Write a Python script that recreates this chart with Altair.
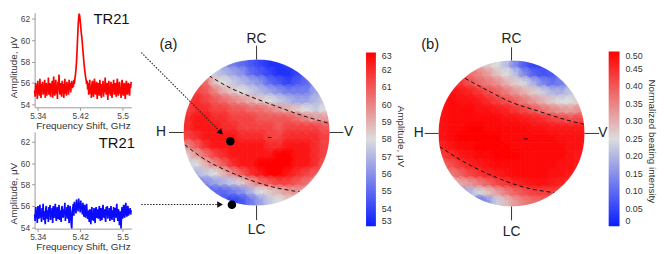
import altair as alt
import pandas as pd

FONT = "Liberation Sans"

# ---------------- spectra (TR21), 1 MHz sampling from 5.334 GHz ----------------
F0, DF = 5.334, 0.001
amp_red = [
    55.3, 54.7, 56.0, 55.1, 55.8, 54.5, 56.2, 55.0, 55.6, 54.8,
    56.4, 55.2, 54.6, 55.9, 55.4, 56.1, 54.9, 55.7, 55.0, 56.3,
    54.6, 55.5, 56.0, 54.8, 55.8, 55.2, 56.5, 54.9, 55.4, 56.0,
    54.7, 55.9, 55.3, 56.2, 54.6, 55.7, 56.6, 55.1, 54.8, 55.6,
    56.3, 55.0, 55.8, 54.5, 56.1, 55.4, 56.8, 55.2, 54.9, 56.0,
    55.5, 54.7, 56.2, 55.1, 55.9, 54.6, 55.6, 56.4, 55.0, 55.7,
    54.8, 56.1, 55.3, 55.9, 54.9, 56.3, 55.4, 56.0, 55.1, 55.8,
    56.2, 55.5, 56.0, 55.6, 56.3, 55.9, 56.4,
    56.8, 57.3, 58.0, 59.0, 60.2, 61.3, 62.1, 62.5, 62.3, 61.8,
    61.2, 60.7, 60.3, 59.7, 59.1, 58.5, 57.9, 57.4, 57.0, 56.6,
    56.3, 55.9, 56.2,
    55.4, 56.0, 54.9, 55.7, 56.3, 55.0, 55.6, 54.6, 55.9, 56.2,
    55.1, 54.7, 55.8, 56.4, 55.2, 54.9, 55.6, 56.1, 54.5, 55.5,
    56.0, 55.3, 54.8, 56.3, 55.6, 55.0, 54.6, 55.9, 55.4, 56.2,
    54.7, 55.8, 55.1, 56.5, 55.3, 54.9, 55.7, 56.0, 54.4, 55.6,
    56.2, 55.0, 55.5, 54.8, 56.1, 55.4, 54.6, 55.9, 55.2, 56.3,
    54.9, 55.7, 56.0, 55.1, 54.7, 55.8, 56.4, 55.3, 54.8, 55.6,
    56.1, 55.0, 55.5, 54.6, 55.9, 56.3, 55.2, 54.8, 55.7, 56.0,
    55.1, 54.5, 55.6, 56.2, 55.3, 54.9, 55.8, 56.0, 55.4, 54.8,
    55.9, 55.5, 56.1,
]
amp_blue = [
    55.2, 54.6, 55.9, 55.0, 55.6, 54.4, 56.0, 55.3, 54.8, 55.7,
    56.1, 54.9, 55.4, 54.5, 55.8, 55.1, 56.2, 54.7, 55.5, 55.0,
    54.3, 55.7, 56.0, 55.2, 54.8, 55.6, 54.5, 55.9, 55.3, 56.1,
    54.7, 55.4, 55.0, 55.8, 54.4, 56.0, 55.2, 54.9, 55.7, 56.2,
    55.0, 54.6, 55.5, 55.9, 54.8, 55.3, 56.1, 54.7, 55.6, 55.1,
    54.5, 55.8, 56.0, 55.2, 54.9, 55.7, 55.3, 56.3, 54.6, 55.5,
    55.0, 55.9, 54.8, 56.1, 55.4, 54.4, 55.7, 56.0, 55.1, 54.3,
    53.9, 55.4, 55.8, 56.2, 55.1, 56.4, 55.6, 56.0, 55.3, 56.6,
    55.8, 56.3, 55.5, 56.7, 55.9, 56.1, 55.4, 56.5, 55.7, 56.0,
    55.2, 56.3, 55.6, 55.0, 56.1, 55.5, 54.9, 55.8, 56.2, 55.3,
    54.8, 55.6, 55.1, 54.5, 55.7, 55.0, 54.3, 55.4, 55.9, 54.7,
    55.3, 54.6, 55.8, 55.1, 54.4, 55.6, 55.9, 54.9, 55.2, 55.7,
    54.8, 55.5, 56.0, 55.0, 54.6, 55.8, 55.3, 54.7, 55.6, 56.1,
    55.2, 54.9, 55.7, 55.0, 54.5, 55.9, 55.4, 56.0, 54.8, 55.5,
    55.1, 55.8, 54.6, 55.4, 56.0, 55.2, 54.7, 55.6, 55.0, 55.9,
    54.5, 55.3, 55.8, 54.9, 55.6, 56.2, 55.1, 54.6, 55.7, 55.3,
    54.2, 55.5, 55.0, 53.9, 55.4, 55.9, 54.8, 55.6, 56.1, 55.2,
    54.9, 55.8, 56.3, 55.4, 55.0, 55.7, 56.0, 55.1, 55.6, 55.3,
    55.8, 55.2, 55.6,
]
spec_x_ticks = [5.34, 5.42, 5.5]
spec_y_ticks = [54, 56, 58, 60, 62]
spec_label = "TR21"

# ---------------- sphere maps (rows top->bottom, cells inside the disk) ----------------
map_amp = [
    [56, 55.5, 55, 54.5, 54, 53.5, 53.5, 54],
    [58.5, 57.5, 57, 56.5, 56, 55, 54.5, 54, 53.5, 53.5, 54, 55],
    [61, 60.5, 58.5, 58, 57.5, 57, 56.5, 56, 55, 54.5, 54, 54.5, 55, 56],
    [61.5, 61, 60, 59, 58.5, 58, 57.5, 57, 56.5, 56, 55.5, 55.5, 55.5, 56.5],
    [61.5, 62, 61.5, 61, 60.5, 60, 59.5, 59, 58.5, 58, 57.5, 57, 56.5, 56.5, 57, 57.5],
    [61.5, 62, 62, 61.5, 61.5, 61, 61, 60.5, 60.5, 60, 59.5, 59, 58.5, 58, 57.5, 58],
    [62, 62.5, 62.5, 62, 62, 61.5, 61.5, 61.5, 61, 61, 61, 61, 60.5, 60, 59.5, 59.5],
    [62, 62.5, 62.5, 62.5, 62, 62, 61.5, 61.5, 61.5, 61.5, 61, 61.5, 61.5, 61.5, 61.5, 61],
    [61.5, 62, 62.5, 62.5, 62.5, 62.5, 62, 62, 62, 61.5, 61.5, 62, 62, 62, 62, 61.5],
    [60, 61, 62, 62.5, 62.5, 62.5, 62.5, 62.5, 62.5, 62, 62, 62.5, 62.5, 62.5, 62, 61.5],
    [58.5, 59.5, 60.5, 61.5, 62, 62.5, 62.5, 62.5, 62.5, 62.5, 63, 63, 62.5, 62.5, 62, 61.5],
    [57.5, 58, 59, 60, 61, 62, 62.5, 62.5, 63, 63, 63, 63, 62.5, 62.5, 62, 61],
    [57, 57.5, 58, 59, 60, 61, 62, 62.5, 63, 63, 62.5, 62, 61.5, 61],
    [56, 56, 56.5, 57, 57.5, 58.5, 59.5, 60.5, 61, 61.5, 61.5, 61, 60.5, 60],
    [55, 55, 55, 55.5, 56, 57, 58, 58.5, 59, 59.5, 59.5, 59.5],
    [54.5, 54, 54.5, 55.5, 56.5, 57.5, 58, 58.5],
]
map_beat = [
    [0.30, 0.27, 0.25, 0.21, 0.14, 0.08, 0.05, 0.06],
    [0.40, 0.37, 0.35, 0.32, 0.28, 0.25, 0.21, 0.14, 0.09, 0.07, 0.08, 0.12],
    [0.45, 0.44, 0.41, 0.38, 0.36, 0.34, 0.30, 0.27, 0.24, 0.19, 0.14, 0.11, 0.13, 0.17],
    [0.48, 0.47, 0.46, 0.44, 0.41, 0.39, 0.36, 0.33, 0.30, 0.27, 0.23, 0.20, 0.19, 0.22],
    [0.48, 0.49, 0.48, 0.48, 0.47, 0.45, 0.43, 0.41, 0.39, 0.36, 0.33, 0.30, 0.27, 0.25, 0.25, 0.27],
    [0.48, 0.49, 0.49, 0.49, 0.48, 0.48, 0.47, 0.46, 0.44, 0.42, 0.40, 0.37, 0.35, 0.33, 0.32, 0.34],
    [0.48, 0.49, 0.49, 0.49, 0.49, 0.49, 0.49, 0.48, 0.48, 0.47, 0.46, 0.45, 0.43, 0.42, 0.41, 0.42],
    [0.48, 0.49, 0.49, 0.50, 0.50, 0.49, 0.49, 0.49, 0.49, 0.49, 0.48, 0.48, 0.47, 0.47, 0.47, 0.47],
    [0.48, 0.49, 0.50, 0.50, 0.50, 0.50, 0.50, 0.49, 0.49, 0.49, 0.49, 0.49, 0.49, 0.48, 0.48, 0.48],
    [0.46, 0.48, 0.49, 0.49, 0.50, 0.50, 0.50, 0.50, 0.49, 0.49, 0.49, 0.49, 0.49, 0.49, 0.48, 0.48],
    [0.43, 0.45, 0.47, 0.48, 0.49, 0.49, 0.50, 0.50, 0.50, 0.49, 0.49, 0.49, 0.49, 0.49, 0.48, 0.47],
    [0.39, 0.41, 0.44, 0.46, 0.47, 0.48, 0.49, 0.49, 0.49, 0.49, 0.49, 0.49, 0.49, 0.48, 0.48, 0.47],
    [0.36, 0.39, 0.42, 0.44, 0.46, 0.47, 0.48, 0.49, 0.49, 0.49, 0.49, 0.48, 0.48, 0.47],
    [0.29, 0.31, 0.33, 0.36, 0.39, 0.42, 0.44, 0.46, 0.47, 0.48, 0.48, 0.47, 0.46, 0.45],
    [0.17, 0.20, 0.24, 0.28, 0.32, 0.36, 0.39, 0.41, 0.43, 0.43, 0.43, 0.42],
    [0.10, 0.16, 0.23, 0.29, 0.33, 0.36, 0.38, 0.39],
]

# dashed latitude curves (unit-sphere coordinates)
dash_a = {"top": ([-0.653, -0.383, -0.068, 0.293, 0.608, 0.991], [0.779, 0.622, 0.486, 0.351, 0.239, 0.126]),
          "bot": ([-0.985, -0.743, -0.293, 0.158, 0.631], [-0.167, -0.347, -0.572, -0.73, -0.82])}
dash_b = {"top": ([-0.636, -0.34, -0.023, 0.386, 0.75, 0.99], [0.755, 0.595, 0.436, 0.3, 0.186, 0.127]),
          "bot": ([-0.99, -0.705, -0.25, 0.205, 0.614], [-0.177, -0.359, -0.586, -0.745, -0.814])}

amp_ticks = [53, 54, 55, 56, 57, 58, 59, 60, 61, 62, 63]
beat_ticks = [0, 0.05, 0.10, 0.15, 0.20, 0.25, 0.30, 0.35, 0.40, 0.45, 0.50]
BLUE, MID, RED = "#0a1eff", "#dcdcdc", "#ff0000"


def spectrum(vals, color, ydom, h, title_y, lab_xy):
    freq = [round(F0 + DF * i, 3) for i in range(len(vals))]
    df = pd.DataFrame({"f": freq, "a": vals})
    xs = alt.Scale(domain=[5.334, 5.5163], nice=False, zero=False)
    ys = alt.Scale(domain=ydom, nice=False, zero=False)
    ax_x = alt.Axis(values=spec_x_ticks, format=".2~f", title="Frequency Shift, GHz", grid=False,
                    domainColor="#999", tickColor="#999", tickSize=3, labelPadding=1,
                    labelFontSize=8.5, labelColor="#444", labelFont=FONT, labelOverlap=False,
                    titleFontSize=10, titleFontWeight="normal", titleColor="#333", titleFont=FONT,
                    titlePadding=1)
    ax_y = alt.Axis(values=spec_y_ticks, title="Amplitude, μV", grid=False,
                    domainColor="#999", tickColor="#999", tickSize=3, labelPadding=2,
                    labelFontSize=8.5, labelColor="#444", labelFont=FONT, labelOverlap=False,
                    labelBound=False, titleFontSize=10, titleFontWeight="normal", titleColor="#333",
                    titleFont=FONT, titlePadding=2, titleY=title_y)
    X = alt.X("f:Q", scale=xs, axis=ax_x)
    Y = alt.Y("a:Q", scale=ys, axis=ax_y)
    line = alt.Chart(df).mark_line(color=color, strokeWidth=1.7).encode(x=X, y=Y)
    lab = alt.Chart(pd.DataFrame({"f": [lab_xy[0]], "a": [lab_xy[1]], "t": [spec_label]})).mark_text(
        font=FONT, fontSize=15, color="#111", align="center", baseline="middle").encode(
        x=X, y=Y, text="t:N")
    return alt.layer(line, lab).properties(width=98, height=h)


def cells(rows):
    hs = 0.0645
    recs = []
    for r, row in enumerate(rows):
        v = 0.9375 - 0.125 * r
        start = (16 - len(row)) // 2
        for j, val in enumerate(row):
            u = -0.9375 + 0.125 * (start + j)
            recs.append(dict(u=u - hs, u2=u + hs, v=v - hs, v2=v + hs, uc=u, vc=v, val=val))
    return pd.DataFrame(recs)


def sphere(rows, cscale, legend, udom, vdom, w, h, dashes, ticks, letters, panel, ltitle, center, extra=()):
    xs = alt.Scale(domain=udom, nice=False, zero=False)
    ys = alt.Scale(domain=vdom, nice=False, zero=False)
    X = alt.X("u:Q", scale=xs, axis=None)
    Y = alt.Y("v:Q", scale=ys, axis=None)
    cdf = cells(rows)

    rect = alt.Chart(cdf).mark_rect(strokeWidth=0).encode(
        x=X, x2=alt.X2("u2:Q"), y=Y, y2=alt.Y2("v2:Q"),
        color=alt.Color("val:Q", scale=cscale, legend=legend))
    # soft overlay of the same cells to soften the mosaic edges (no legend of its own)
    soft = alt.Chart(cdf).mark_circle(size=230, opacity=0.5, strokeWidth=0).encode(
        x=alt.X("uc:Q", scale=xs, axis=None), y=alt.Y("vc:Q", scale=ys, axis=None),
        color=alt.Color("val:Q", scale=cscale, legend=None))

    drec = []
    for name, (us, vs) in dashes.items():
        for k, (u, v) in enumerate(zip(us, vs)):
            drec.append(dict(id=name, k=k, u=u, v=v))
    dash = alt.Chart(pd.DataFrame(drec)).mark_line(
        color="#111", strokeDash=[4, 3], strokeWidth=1, interpolate="monotone").encode(
        x=X, y=Y, detail="id:N", order=alt.Order("k:Q"))

    mask = alt.Chart(pd.DataFrame({"u": [0.0], "v": [0.0]})).mark_point(
        shape="circle", filled=False, stroke="white", strokeWidth=16, size=164 ** 2,
        strokeJoin="round", opacity=1).encode(x=X, y=Y)

    cdash = alt.Chart(pd.DataFrame([center])).mark_rule(color="#111", strokeWidth=1).encode(
        x=X, x2=alt.X2("u2:Q"), y=Y)

    tk = alt.Chart(pd.DataFrame(ticks, columns=["u", "v", "u2", "v2"])).mark_rule(
        color="#333", strokeWidth=1).encode(x=X, y=Y, x2=alt.X2("u2:Q"), y2=alt.Y2("v2:Q"))

    let = alt.Chart(pd.DataFrame(letters, columns=["u", "v", "t"])).mark_text(
        font=FONT, fontSize=14, color="#222", align="center", baseline="middle").encode(
        x=X, y=Y, text="t:N")
    pan = alt.Chart(pd.DataFrame([panel], columns=["u", "v", "t"])).mark_text(
        font=FONT, fontSize=15, color="#222", align="center", baseline="middle").encode(
        x=X, y=Y, text="t:N")
    lt = alt.Chart(pd.DataFrame([ltitle], columns=["u", "v", "t"])).mark_text(
        font=FONT, fontSize=10, color="#333", align="center", baseline="middle", angle=90).encode(
        x=X, y=Y, text="t:N")

    layers = [rect, soft, dash, mask, cdash, tk, let, pan, lt]
    for e in extra:
        layers.append(e(X, Y))
    return alt.layer(*layers).properties(width=w, height=h)


# ---- panel (a) extras: dotted arrows + measurement points
arrow_lines = pd.DataFrame([
    dict(id="a1", k=0, u=-1.58, v=1.095), dict(id="a1", k=1, u=-0.489, v=0.002),
    dict(id="a2", k=0, u=-1.58, v=-0.986), dict(id="a2", k=1, u=-0.50, v=-0.986),
])
arrow_heads = pd.DataFrame([dict(u=-0.489, v=0.002, ang=45), dict(u=-0.50, v=-0.986, ang=0)])
dots = pd.DataFrame([dict(u=-0.36, v=-0.12), dict(u=-0.338, v=-0.99)])


def ex_lines(X, Y):
    return alt.Chart(arrow_lines).mark_line(color="#222", strokeDash=[1.5, 1.5], strokeWidth=1.1).encode(
        x=X, y=Y, detail="id:N", order=alt.Order("k:Q"))


def ex_heads(X, Y):
    return alt.Chart(arrow_heads).mark_point(shape="triangle-right", filled=True, color="#111",
                                             size=45, opacity=1).encode(
        x=X, y=Y, angle=alt.Angle("ang:Q", scale=None))


def ex_dots(X, Y):
    return alt.Chart(dots).mark_point(shape="circle", filled=True, color="#000", size=75,
                                      opacity=1).encode(x=X, y=Y)


scale_a = alt.Scale(domain=[53, 58, 63], range=[BLUE, MID, RED], interpolate="rgb")
scale_b = alt.Scale(domain=[0, 0.25, 0.5], range=[BLUE, MID, RED], interpolate="rgb")

leg_a = alt.Legend(orient="none", legendX=229, legendY=40.5, direction="vertical", title=None,
                   gradientLength=176, gradientThickness=10, gradientStrokeWidth=0,
                   values=amp_ticks, labelFontSize=9, labelFont=FONT, labelColor="#333",
                   labelOffset=6, labelOverlap=False, labelBaseline="middle")
leg_b = alt.Legend(orient="none", legendX=202, legendY=39.5, direction="vertical", title=None,
                   gradientLength=177, gradientThickness=11, gradientStrokeWidth=0,
                   values=beat_ticks, labelFontSize=9, labelFont=FONT, labelColor="#333",
                   labelOffset=6, labelOverlap=False, labelBaseline="middle",
                   labelExpr="datum.value == 0 ? '0' : format(datum.value, '.2f')")

ticks_a = [[-1.2, 0, -1.0, 0], [1.0, 0, 1.19, 0], [0, 1.0, 0, 1.19], [0, -1.0, 0, -1.2]]
letters_a = [[-1.31, 0, "H"], [1.26, 0, "V"], [0, 1.284, "RC"], [0, -1.338, "LC"]]
ticks_b = [[-1.19, 0, -1.0, 0], [1.0, 0, 1.2, 0], [0, 1.0, 0, 1.18], [0, -1.0, 0, -1.19]]
letters_b = [[-1.273, 0, "H"], [1.25, 0, "V"], [0, 1.288, "RC"], [0, -1.347, "LC"]]

top = spectrum(amp_red, "#ff0000", [53.71, 62.6], 96, 55, (5.479, 62.0))
bot = spectrum(amp_blue, "#0a0aff", [53.88, 62.92], 98, 62, (5.489, 61.9))
spec_col = alt.vconcat(top, bot, spacing=1)

sph_a = sphere(map_amp, scale_a, leg_a, [-1.595, 2.027], [-1.601, 1.642], 268, 240,
               dash_a, ticks_a, letters_a, [-1.207, 1.207, "(a)"], [1.98, -0.054, "Amplitude, μV"],
               dict(u=0.158, u2=0.203, v=-0.068), extra=(ex_lines, ex_heads, ex_dots))
sph_b = sphere(map_beat, scale_b, leg_b, [-1.399, 1.966], [-1.588, 1.655], 249, 240,
               dash_b, ticks_b, letters_b, [-1.115, 1.22, "(b)"], [1.92, -0.108, "Normalized beating intensity"],
               dict(u=0.169, u2=0.227, v=-0.075))

chart = alt.hconcat(spec_col, sph_a, sph_b, spacing=3).resolve_scale(
    color="independent", x="independent", y="independent").properties(padding=0).configure_view(stroke=None)

chart.save("out.html", embed_options={"renderer": "svg", "actions": False})
